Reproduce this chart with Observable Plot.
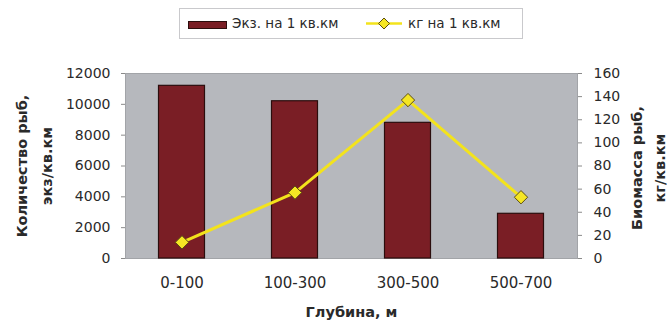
<!DOCTYPE html>
<html>
<head>
<meta charset="utf-8">
<script src="https://cdn.jsdelivr.net/npm/d3@7"></script>
<script src="https://cdn.jsdelivr.net/npm/@observablehq/plot@0.6"></script>
<style>
  html, body { margin: 0; padding: 0; background: #fff; }
  #wrap { position: relative; width: 667px; height: 325px; font-family: "DejaVu Sans", sans-serif; color: #2a2a2a; }
  #legend { position: absolute; left: 179px; top: 8px; width: 344px; height: 31px; border: 1px solid #c9c9cc; box-sizing: border-box; }
  #legend .item { position: absolute; top: 0; height: 29px; line-height: 29px; font-size: 13.5px; white-space: nowrap; }
  #legend .sw-bar { position: absolute; top: 12px; width: 37px; height: 6px; background: #7a1e25; border: 1px solid #2b0d0d; }
  #legend svg { position: absolute; top: 0; }
  #chart { position: absolute; left: 0; top: 45px; }
</style>
</head>
<body>
<div id="wrap">
  <div id="legend">
    <div class="sw-bar" style="left:8px"></div>
    <div class="item" style="left:52px">Экз. на 1 кв.км</div>
    <svg style="left:184px" width="40" height="29">
      <line x1="2" y1="14.5" x2="38" y2="14.5" stroke="#f3e31c" stroke-width="2.5"/>
      <path d="M20 9 L25.5 14.5 L20 20 L14.5 14.5 Z" fill="#f5e624" stroke="#5a4c12" stroke-width="1"/>
    </svg>
    <div class="item" style="left:228px">кг на 1 кв.км</div>
  </div>
  <div id="chart"></div>
</div>
<script>
// Depth bands and the two measured series
const depth = ["0-100", "100-300", "300-500", "500-700"];
const fishCount = [11200, 10200, 8800, 2900];   // individuals per sq. km
const biomass = [14, 57, 137, 53];               // kg per sq. km

// Axis tick values
const countTicks = [0, 2000, 4000, 6000, 8000, 10000, 12000];
const biomassTicks = [0, 20, 40, 60, 80, 100, 120, 140, 160];

// The biomass axis (0–160) shares the plot height with the count axis (0–12000)
const countMax = 12000;
const biomassMax = 160;
const toCount = v => v * countMax / biomassMax;

const rows = depth.map((d, i) => ({
  depth: d,
  count: fishCount[i],
  massOnCount: toCount(biomass[i])
}));

const ink = "#2a2a2a";
const title = { fontWeight: "bold", fontSize: 14.5, fill: ink, textAnchor: "middle" };

const chart = Plot.plot({
  width: 667,
  height: 280,
  marginLeft: 125,
  marginRight: 90,
  marginTop: 28,
  marginBottom: 67,
  style: { fontFamily: "'DejaVu Sans', sans-serif", fontSize: "14px", color: ink, background: "transparent" },
  x: { domain: depth, paddingInner: 0, paddingOuter: 0, axis: null },
  y: { domain: [0, countMax], axis: null },
  marks: [
    Plot.frame({ fill: "#b6b8bd", stroke: "#a2a4a8" }),
    Plot.barY(rows, {
      x: "depth", y: "count",
      fill: "#7a1e25", stroke: "#2b0d0d", strokeWidth: 1.2,
      insetLeft: 33.5, insetRight: 33.5
    }),
    Plot.line(rows, { x: "depth", y: "massOnCount", stroke: "#f3e31c", strokeWidth: 3 }),
    Plot.dot(rows, {
      x: "depth", y: "massOnCount", symbol: "diamond2", r: 6,
      fill: "#f5e624", stroke: "#5a4c12", strokeWidth: 1
    }),
    Plot.axisY(countTicks, {
      anchor: "left", tickSize: 4, tickPadding: 11, stroke: "#8a8a8a",
      tickFormat: d => String(d), label: null
    }),
    Plot.axisY(biomassTicks.map(toCount), {
      anchor: "right", tickSize: 4, tickPadding: 12, stroke: "#8a8a8a",
      tickFormat: d => String(Math.round(d * biomassMax / countMax)), label: null
    }),
    Plot.axisX({ tickSize: 0, tickPadding: 19, fontSize: 15, label: null }),
    // Axis titles
    Plot.text(["Количество рыб,"], { ...title, text: d => d, frameAnchor: "left", rotate: -90, dx: -103 }),
    Plot.text(["экз/кв.км"], { ...title, text: d => d, frameAnchor: "left", rotate: -90, dx: -78 }),
    Plot.text(["Биомасса рыб,"], { ...title, text: d => d, frameAnchor: "right", rotate: -90, dx: 60, dy: 2 }),
    Plot.text(["кг/кв.км"], { ...title, text: d => d, frameAnchor: "right", rotate: -90, dx: 83, dy: 2 }),
    Plot.text(["Глубина, м"], { ...title, text: d => d, frameAnchor: "bottom", dy: 58 })
  ]
});

document.getElementById("chart").appendChild(chart);
</script>
</body>
</html>
